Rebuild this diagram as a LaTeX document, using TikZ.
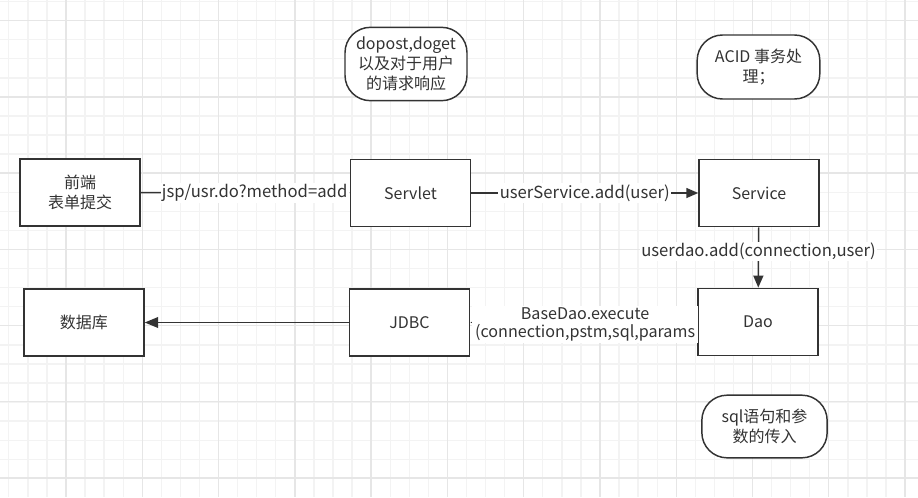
\documentclass[tikz,border=0pt]{standalone}
\usepackage{fontspec}
\setmainfont{Noto Sans CJK SC}
\usetikzlibrary{arrows.meta,calc}
\definecolor{ink}{HTML}{333333}
\definecolor{minorline}{HTML}{F3F3F3}
\definecolor{majorline}{HTML}{E6E6E6}

\begin{document}
\begin{tikzpicture}[x=0.75pt,y=-0.75pt]
	\tikzset{box/.style = {draw=ink,line width=1.1pt,fill=white,text=ink,align=center,
	    inner sep=0pt,minimum width=90pt,minimum height=50.5pt,
	    font=\fontsize{12}{14.5}\selectfont}}
	\tikzset{note/.style = {box,rounded corners=19pt,font=\fontsize{12}{15}\selectfont}}
	\tikzset{edge/.style = {draw=ink,line width=1.1pt,-{Triangle[length=9pt,width=7.5pt]}}}
	\tikzset{lbl/.style = {fill=white,text=ink,align=center,inner sep=1pt,
	    font=\fontsize{12.5}{13.8}\selectfont}}
	\useasboundingbox (0,0) rectangle (918,497);

	% grid
	\fill[white] (0,0) rectangle (918,497);
	\foreach \i in {0,...,47} \draw[minorline,line width=1pt] ({8.8+\i*19.07},0) -- ++(0,497);
	\foreach \i in {0,...,25} \draw[minorline,line width=1pt] (0,{1.6+\i*19.07}) -- ++(918,0);
	\foreach \i in {0,...,11} \draw[majorline,line width=1pt] ({66+\i*76.28},0) -- ++(0,497);
	\foreach \i in {0,...,6} \draw[majorline,line width=1pt] (0,{20.7+\i*76.2}) -- ++(918,0);

	% vertices
	\node[box] (front) at (80,192.5) {前端\\表单提交};
	\node[box] (servlet) at (410.5,193) {Servlet};
	\node[box] (service) at (759,193) {Service};
	\node[box] (dao) at (758,322) {Dao};
	\node[box] (jdbc) at (409.5,322.5) {JDBC};
	\node[box] (db) at (84,322.5) {数据库};
	\node[note,minimum width=91.5pt,minimum height=55pt] (req) at (406,64) {dopost,doget\\以及对于用户\\的请求响应};
	\node[note,minimum width=92pt,minimum height=48pt] (acid) at (758.5,67) {ACID 事务处\\理；};
	\node[note,minimum width=94pt,minimum height=47pt] (sqlnote) at (764.5,426.5) {sql语句和参\\数的传入};

	% edges
	\draw[edge] (front) -- node[lbl,pos=0.545] {jsp/usr.do?method=add} (servlet);
	\draw[edge] (servlet) -- node[lbl] {userService.add(user)} (service);
	\draw[edge] (service) -- node[lbl,pos=0.4] {userdao.add(connection,user)} (dao);
	\draw[edge,-{Triangle[length=4pt,width=3pt]}] (dao) -- node[lbl,inner xsep=2pt,xshift=1pt,yshift=-1.5pt,font=\fontsize{12.1}{13.8}\selectfont] {BaseDao.execute\\(connection,pstm,sql,params} (jdbc);
	\draw[edge,-{Triangle[length=10pt,width=8pt]}] (jdbc) -- (db);
\end{tikzpicture}
\end{document}
